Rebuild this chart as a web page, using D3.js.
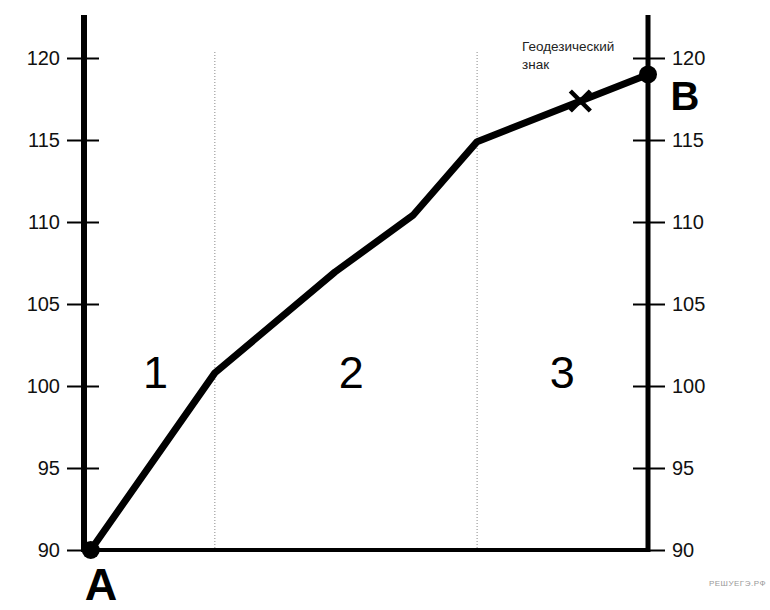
<!DOCTYPE html>
<html><head><meta charset="utf-8">
<script src="https://cdn.jsdelivr.net/npm/d3@7"></script>
<style>body{margin:0;background:#fff}svg{display:block}text{font-family:"Liberation Sans",Arial,sans-serif}</style>
</head><body>
<svg id="c" width="770" height="610"></svg>
<script>
const yTicks = [90, 95, 100, 105, 110, 115, 120];
const dist = [1.2, 23.2, 44.5, 58.3, 69.7, 100];
const elev = [90, 100.8, 106.95, 110.4, 114.9, 119.0];
const dividers = [23.2, 69.7];
const sections = [{label:"1", x:12.7}, {label:"2", x:47.4}, {label:"3", x:84.8}];
const markX = 88.0;

const svg = d3.select("#c");
const x = d3.scaleLinear().domain([0, 100]).range([84, 648]);
const y = d3.scaleLinear().domain([90, 120]).range([550, 58]);

// dotted dividers
svg.selectAll("line.div").data(dividers).enter().append("line")
  .attr("x1", d => x(d)).attr("x2", d => x(d)).attr("y1", 52).attr("y2", 550)
  .attr("stroke", "#888").attr("stroke-width", 1).attr("stroke-dasharray", "1,2");

// axes
const left = svg.append("g").attr("transform", `translate(${x(0)},0)`)
  .call(d3.axisLeft(y).tickValues(yTicks).tickSize(17).tickPadding(7).tickFormat(d3.format("d")));
const right = svg.append("g").attr("transform", `translate(${x(100)},0)`)
  .call(d3.axisRight(y).tickValues(yTicks).tickSize(17).tickPadding(7).tickFormat(d3.format("d")));
[left, right].forEach(g => {
  g.select(".domain").remove();
  g.selectAll(".tick line").attr("stroke", "#000").attr("stroke-width", 2);
  g.selectAll(".tick text").attr("font-size", 20).attr("fill", "#111")
    .attr("font-family", '"Liberation Sans",Arial,sans-serif');
});
left.selectAll(".tick line").attr("x1", 15);
right.selectAll(".tick line").attr("x1", -15);

// vertical axis lines
svg.append("line").attr("x1", x(0)).attr("x2", x(0)).attr("y1", 15).attr("y2", 552)
  .attr("stroke", "#000").attr("stroke-width", 6);
svg.append("line").attr("x1", x(100)).attr("x2", x(100)).attr("y1", 15).attr("y2", 552)
  .attr("stroke", "#000").attr("stroke-width", 5);
// bottom line
svg.append("line").attr("x1", x(0)).attr("x2", x(100)).attr("y1", y(90)).attr("y2", y(90))
  .attr("stroke", "#000").attr("stroke-width", 4);

// profile line
const pts = dist.map((d, i) => [d, elev[i]]);
svg.append("path").datum(pts)
  .attr("d", d3.line().x(d => x(d[0])).y(d => y(d[1])))
  .attr("fill", "none").attr("stroke", "#000").attr("stroke-width", 7)
  .attr("stroke-linejoin", "round");

// endpoints
svg.append("circle").attr("cx", x(dist[0])).attr("cy", y(elev[0])).attr("r", 9).attr("fill", "#000");
svg.append("circle").attr("cx", x(dist[dist.length-1])).attr("cy", y(elev[elev.length-1])).attr("r", 9).attr("fill", "#000");

// geodesic mark X
const interp = d3.scaleLinear().domain(dist).range(elev);
const mx = x(markX), my = y(interp(markX));
const h = 10;
svg.append("path")
  .attr("d", `M${mx-h},${my-h}L${mx+h},${my+h}M${mx+h},${my-h}L${mx-h},${my+h}`)
  .attr("stroke", "#000").attr("stroke-width", 4.5).attr("fill", "none");

// section labels
svg.selectAll("text.sec").data(sections).enter().append("text")
  .attr("x", d => x(d.x)).attr("y", 388).attr("text-anchor", "middle")
  .attr("font-size", 45).text(d => d.label);

// point labels
svg.append("text").attr("x", 101).attr("y", 600).attr("text-anchor", "middle")
  .attr("font-size", 45).attr("font-weight", "bold").text("A");
svg.append("text").attr("x", 685).attr("y", 110).attr("text-anchor", "middle")
  .attr("font-size", 40).attr("font-weight", "bold").text("B");

// geodesic sign label
svg.append("text").attr("x", 522).attr("y", 51).attr("font-size", 13.5).attr("fill", "#222").text("Геодезический");
svg.append("text").attr("x", 522).attr("y", 69).attr("font-size", 13.5).attr("fill", "#222").text("знак");

// watermark
svg.append("text").attr("x", 766).attr("y", 586).attr("text-anchor", "end")
  .attr("font-size", 8).attr("fill", "#999").attr("letter-spacing", 0.5).text("РЕШУЕГЭ.РФ");
</script>
</body></html>
